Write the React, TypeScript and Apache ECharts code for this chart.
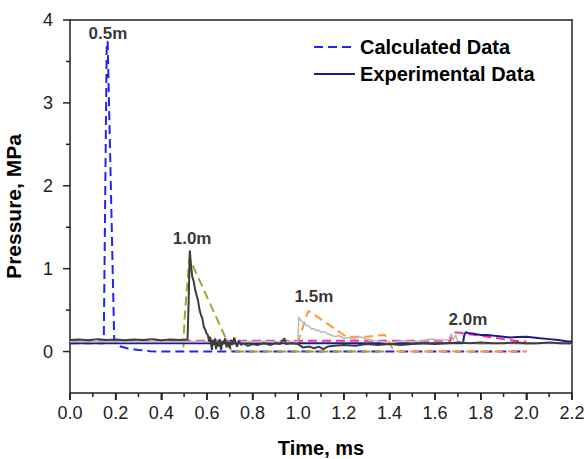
import React, { useEffect, useRef } from "react";
import * as echarts from "echarts";

// Calculated data (dashed)
const calc05: number[][] = [[0, 0.1], [0.148, 0.1], [0.161, 3.74], [0.165, 3.74], [0.194, 0.12], [0.21, 0.07], [0.25, 0.04], [0.3, 0.02], [0.35, 0.005], [0.4, 0], [2.0, 0]];
const calc10: number[][] = [[0.497, 0.05], [0.502, 0.4], [0.523, 1.13], [0.709, 0.0], [1.38, 0]];
const calc15: number[][] = [[0.995, 0.1], [1.0, 0.12], [1.044, 0.49], [1.1, 0.39], [1.21, 0.18], [1.3, 0.18], [1.38, 0.2], [1.405, 0.08], [1.42, 0], [2.0, 0]];
const calc20: number[][] = [[0, 0.13], [1.668, 0.13], [1.672, 0.23], [1.7, 0.23], [1.75, 0.21], [1.8, 0.19], [1.85, 0.17], [1.9, 0.15], [1.95, 0.13], [2.0, 0.12]];

// Experimental data (solid)
const exp10: number[][] = [
  [0, 0.14], [0.04, 0.145], [0.08, 0.135], [0.12, 0.15], [0.16, 0.14], [0.2, 0.145], [0.24, 0.135], [0.28, 0.145], [0.32, 0.14], [0.36, 0.15], [0.4, 0.135], [0.44, 0.145], [0.48, 0.14], [0.515, 0.145],
  [0.52, 0.6], [0.525, 1.22], [0.53, 1.05], [0.536, 0.9], [0.542, 0.85], [0.548, 0.75], [0.555, 0.68], [0.562, 0.6], [0.568, 0.5], [0.574, 0.44], [0.58, 0.4], [0.586, 0.3], [0.592, 0.27], [0.598, 0.22], [0.604, 0.2],
  [0.61, 0.12], [0.614, 0.18], [0.618, 0.1], [0.622, 0.02], [0.626, 0.14], [0.632, 0.08], [0.636, 0.16], [0.64, 0.03], [0.646, 0.12], [0.652, 0.06], [0.656, 0.15], [0.662, 0.02], [0.668, 0.13], [0.674, 0.09], [0.68, 0.16], [0.686, 0.05], [0.692, 0.12], [0.7, 0.04], [0.706, 0.14], [0.712, 0.08], [0.72, 0.17], [0.726, 0.1], [0.732, 0.06], [0.74, 0.13], [0.75, 0.08], [0.76, 0.1], [0.78, 0.07], [0.8, 0.09], [0.82, 0.08], [0.85, 0.1], [0.88, 0.08], [0.9, 0.1], [0.92, 0.09], [0.94, 0.16], [0.945, 0.09], [0.97, 0.1], [1.0, 0.09],
  [1.02, 0.05], [1.05, 0.06], [1.07, 0.04], [1.09, 0.06], [1.11, 0.03], [1.13, 0.06], [1.16, 0.07], [1.2, 0.08], [1.25, 0.07], [1.3, 0.09], [1.35, 0.08], [1.4, 0.09], [1.45, 0.08], [1.5, 0.09], [1.55, 0.1], [1.6, 0.09], [1.65, 0.1], [1.7, 0.11], [1.75, 0.1], [1.8, 0.11], [1.85, 0.1], [1.9, 0.1], [1.95, 0.11], [2.0, 0.1], [2.05, 0.1], [2.1, 0.11], [2.15, 0.1], [2.2, 0.1],
];
const exp15: number[][] = [
  [0, 0.12], [0.5, 0.12], [0.998, 0.12], [1.003, 0.42], [1.01, 0.38], [1.02, 0.35], [1.03, 0.33], [1.04, 0.31], [1.05, 0.3], [1.06, 0.27], [1.07, 0.28], [1.08, 0.25], [1.09, 0.26], [1.1, 0.23], [1.115, 0.24], [1.13, 0.21], [1.145, 0.2], [1.16, 0.18], [1.18, 0.19], [1.2, 0.16], [1.22, 0.17], [1.25, 0.15], [1.27, 0.18], [1.29, 0.16], [1.31, 0.14], [1.34, 0.13], [1.37, 0.12], [1.4, 0.1], [1.43, 0.12], [1.46, 0.13], [1.5, 0.12], [1.54, 0.13], [1.58, 0.15], [1.62, 0.14], [1.66, 0.14], [1.67, 0.21], [1.68, 0.14], [1.69, 0.2], [1.7, 0.12], [1.75, 0.1], [1.8, 0.09], [1.9, 0.1], [2.0, 0.09], [2.1, 0.1], [2.2, 0.09],
];
const exp20: number[][] = [[0, 0.1], [1.722, 0.1], [1.728, 0.2], [1.735, 0.235], [1.75, 0.22], [1.77, 0.215], [1.8, 0.2], [1.83, 0.2], [1.86, 0.19], [1.9, 0.18], [1.93, 0.17], [1.96, 0.175], [2.0, 0.18], [2.03, 0.17], [2.06, 0.16], [2.1, 0.15], [2.14, 0.14], [2.18, 0.12], [2.2, 0.12]];

// Distance labels
const distLabels = ["0.5m", "1.0m", "1.5m", "2.0m"];
const distPos: number[][] = [[0.166, 3.84], [0.535, 1.36], [1.069, 0.67], [1.744, 0.39]];

// Tick positions (major ticks carry labels)
const xTicks = [0, 0.1, 0.2, 0.3, 0.4, 0.5, 0.6, 0.7, 0.8, 0.9, 1.0, 1.1, 1.2, 1.3, 1.4, 1.5, 1.6, 1.7, 1.8, 1.9, 2.0, 2.1, 2.2];
const xMajor = [0, 0.2, 0.4, 0.6, 0.8, 1.0, 1.2, 1.4, 1.6, 1.8, 2.0, 2.2];
const yTicks = [0, 0.5, 1, 1.5, 2, 2.5, 3, 3.5, 4];
const yMajor = [0, 1, 2, 3, 4];

const FONT = "'Liberation Sans', Arial, sans-serif";
const AX = "#222";

export default function App() {
  const ref = useRef<HTMLDivElement>(null);
  useEffect(() => {
    const chart = echarts.init(ref.current!, undefined, { renderer: "svg" });
    const dashed = (name: string, data: number[][], color: string) => ({
      name, type: "line", data, symbol: "none", silent: true,
      lineStyle: { color, width: 2, type: [9, 5] }, itemStyle: { color },
    });
    const solid = (name: string, data: number[][], color: string, width: number) => ({
      name, type: "line", data, symbol: "none", silent: true,
      lineStyle: { color, width }, itemStyle: { color },
    });
    const isMajor = (list: number[], v: number) => list.some((m) => Math.abs(m - v) < 1e-9);
    chart.setOption({
      animation: false,
      textStyle: { fontFamily: FONT },
      grid: { left: 70, right: 15, top: 20, bottom: 66, outerBoundsMode: "none", containLabel: false },
      legend: {
        data: ["Calculated Data", "Experimental Data"],
        orient: "vertical", left: 308, top: 32, itemWidth: 41, itemHeight: 14, itemGap: 7,
        itemStyle: { opacity: 0 },
        textStyle: { fontFamily: FONT, fontSize: 20, fontWeight: "bold", color: "#000" },
        selectedMode: false,
      },
      xAxis: [
        {
          type: "value", min: 0, max: 2.2, interval: 0.2, position: "bottom",
          name: "Time, ms", nameLocation: "middle", nameGap: 45,
          nameTextStyle: { fontFamily: FONT, fontSize: 20, fontWeight: "bold", color: "#000" },
          axisLine: { show: true, onZero: false, lineStyle: { color: AX, width: 1.5 } },
          axisTick: { show: true, length: 7, lineStyle: { color: AX, width: 1.5 } },
          axisLabel: { fontFamily: FONT, fontSize: 18, color: AX, margin: 11, formatter: (v: number) => v.toFixed(1) },
          splitLine: { show: false },
        },
        {
          type: "value", min: 0, max: 2.2, position: "top",
          axisLine: { show: true, onZero: false, lineStyle: { color: AX, width: 1.5 } },
          axisTick: { show: false }, axisLabel: { show: false }, splitLine: { show: false },
        },
      ],
      yAxis: [
        {
          type: "value", min: -0.5, max: 4, interval: 0.5, position: "left",
          name: "Pressure, MPa", nameLocation: "middle", nameGap: 46,
          nameTextStyle: { fontFamily: FONT, fontSize: 21, fontWeight: "bold", color: "#000" },
          axisLine: { show: true, onZero: false, lineStyle: { color: AX, width: 1.5 } },
          axisTick: { show: false },
          axisLabel: {
            fontFamily: FONT, fontSize: 18, color: AX, margin: 17,
            formatter: (v: number) => (isMajor(yMajor, v) ? String(Math.round(v)) : ""),
          },
          splitLine: { show: false },
        },
        {
          type: "value", min: -0.5, max: 4, position: "right",
          axisLine: { show: true, onZero: false, lineStyle: { color: AX, width: 1.5 } },
          axisTick: { show: false }, axisLabel: { show: false }, splitLine: { show: false },
        },
      ],
      series: [
        dashed("Calculated Data", calc05, "#2323f5"),
        dashed("Calc 1.0m", calc10, "#a3a32a"),
        dashed("Calc 1.5m", calc15, "#ff9a33"),
        dashed("Calc 2.0m", calc20, "#ff2e93"),
        solid("Experimental Data", exp20, "#1c1c8e", 2),
        solid("Exp 1.5m", exp15, "#bdbdbd", 1.6),
        solid("Exp 1.0m", exp10, "#3d3d3d", 2),
        {
          name: "labels", type: "scatter", symbolSize: 0, silent: true,
          data: distLabels.map((n, i) => ({ name: n, value: distPos[i] })),
          label: { show: true, position: "inside", formatter: "{b}", fontFamily: FONT, fontSize: 17, fontWeight: "bold", color: "#000" },
        },
        {
          name: "xticks", type: "custom", silent: true, clip: false, z: 10,
          data: xTicks.map((t) => [t, -0.5]),
          renderItem: (_p: any, api: any) => {
            const v = api.value(0);
            const pt = api.coord([v, api.value(1)]);
            const len = isMajor(xMajor, v) ? 7 : 4;
            return { type: "line", shape: { x1: pt[0], y1: pt[1], x2: pt[0], y2: pt[1] + len }, style: { stroke: AX, lineWidth: 1.5 } };
          },
        },
        {
          name: "yticks", type: "custom", silent: true, clip: false, z: 10,
          data: yTicks.map((t) => [0, t]),
          renderItem: (_p: any, api: any) => {
            const v = api.value(1);
            const pt = api.coord([api.value(0), v]);
            const len = isMajor(yMajor, v) ? 7 : 4;
            return { type: "line", shape: { x1: pt[0], y1: pt[1], x2: pt[0] - len, y2: pt[1] }, style: { stroke: AX, lineWidth: 1.5 } };
          },
        },
      ],
    });
    return () => chart.dispose();
  }, []);
  return <div ref={ref} style={{ width: 587, height: 459, position: "absolute", left: 0, top: 0, background: "#fff" }} />;
}
